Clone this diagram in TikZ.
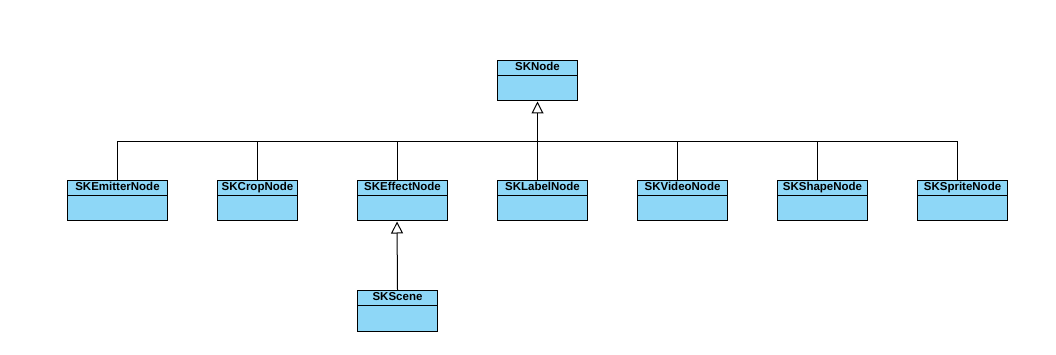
\documentclass[tikz,border=0pt]{standalone}
\usepackage{fontspec}
\setmainfont{Liberation Sans}
\usetikzlibrary{arrows.meta,positioning,shapes.multipart,calc}
\definecolor{skblue}{RGB}{142,215,247}

\begin{document}
\begin{tikzpicture}[
  x=1pt, y=-1pt,
  classbox/.style={rectangle split, rectangle split parts=2, draw, fill=skblue, anchor=north west,
    minimum width=80pt, inner xsep=3pt, inner ysep=1pt, rectangle split empty part height=22.5pt,
    font=\bfseries\fontsize{11.5}{12}\selectfont, execute at begin node=\strut},
  inherit/.style={-{Triangle[open, length=12pt, width=12pt]}},
  line width=1pt
]
\useasboundingbox (0,0) rectangle (1056,355);

% root class
\node[classbox] (sknode) at (497,60) {SKNode};

% subclasses
\node[classbox, minimum width=100pt] (emitter) at (67,180) {SKEmitterNode};
\node[classbox] (crop) at (217,180) {SKCropNode};
\node[classbox, minimum width=90pt] (effect) at (357,180) {SKEffectNode};
\node[classbox, minimum width=90pt] (label) at (497,180) {SKLabelNode};
\node[classbox, minimum width=90pt] (video) at (637,180) {SKVideoNode};
\node[classbox, minimum width=90pt] (shape) at (777,180) {SKShapeNode};
\node[classbox, minimum width=90pt] (sprite) at (917,180) {SKSpriteNode};
\node[classbox] (scene) at (357,290) {SKScene};

\coordinate (bar) at ($(sknode.south)+(0,40)$);

\draw (emitter.north) |- (bar);
\draw (crop.north) |- (bar);
\draw ($(effect.north west)+(40,0)$) |- (bar);
\draw ($(label.north west)+(40,0)$) |- (bar);
\draw ($(video.north west)+(40,0)$) |- (bar);
\draw ($(shape.north west)+(40,0)$) |- (bar);
\draw ($(sprite.north west)+(40,0)$) |- (bar);
\draw[inherit] (bar) -- (sknode.south);

\draw[inherit] (scene.north) -- ($(effect.south west)+(40,0)$);

\end{tikzpicture}
\end{document}
